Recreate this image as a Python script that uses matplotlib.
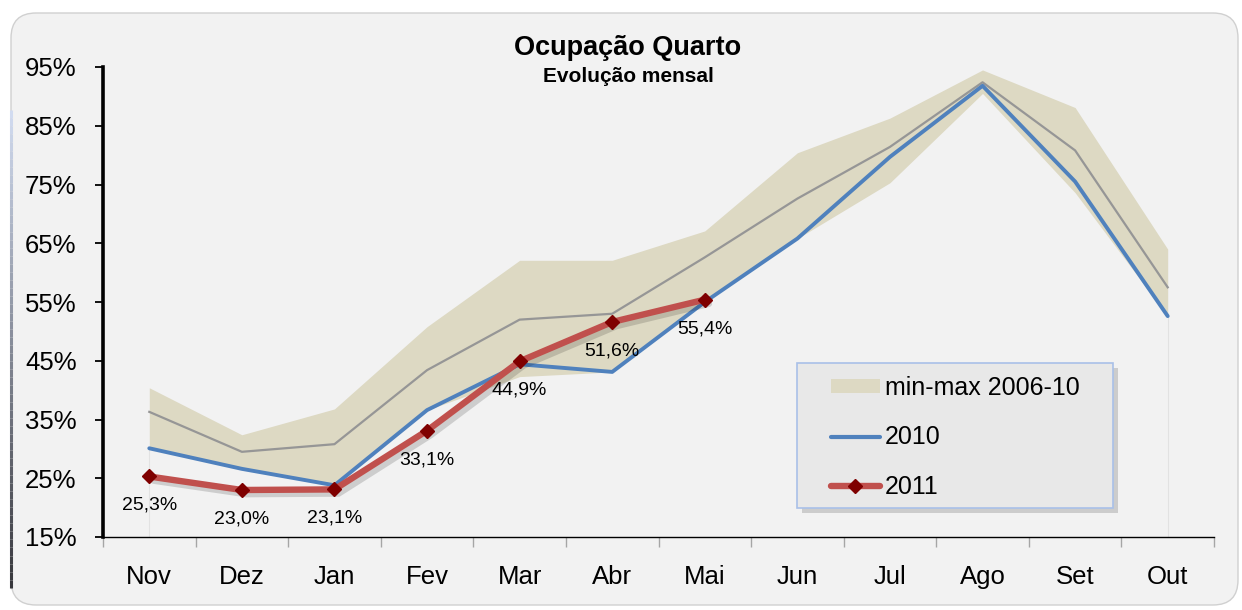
import matplotlib
matplotlib.use('Agg')
import matplotlib.pyplot as plt
import matplotlib.patheffects as pe
from matplotlib.patches import FancyBboxPatch, Rectangle, Patch
from matplotlib.lines import Line2D
from matplotlib.collections import LineCollection
from matplotlib.ticker import FixedLocator, FuncFormatter
import numpy as np

plt.rcParams['font.family'] = ['Liberation Sans', 'DejaVu Sans']

# ---- data ----
months = ["Nov", "Dez", "Jan", "Fev", "Mar", "Abr", "Mai", "Jun", "Jul", "Ago", "Set", "Out"]
band_max = [40.4, 32.4, 36.8, 50.8, 62.1, 62.1, 67.1, 80.4, 86.3, 94.5, 88.1, 64.0]
band_min = [30.1, 26.6, 23.8, 36.6, 42.3, 43.1, 55.0, 65.8, 75.3, 90.5, 73.6, 52.6]
avg_line = [36.3, 29.5, 30.8, 43.4, 52.0, 53.0, 62.6, 72.6, 81.4, 92.4, 80.8, 57.5]
y2010 = [30.1, 26.6, 23.8, 36.6, 44.4, 43.1, 55.0, 65.8, 79.7, 91.8, 75.5, 52.6]
y2011 = [25.3, 23.0, 23.1, 33.1, 44.9, 51.6, 55.4]
yticks = [15, 25, 35, 45, 55, 65, 75, 85, 95]

title = "Ocupação Quarto"
subtitle = "Evolução mensal"
legend_labels = ["min-max 2006-10", "2010", "2011"]

# ---- colours ----
c_band = "#ddd9c3"
c_avg = "#969696"
c_2010 = "#4f81bd"
c_2011 = "#c0504d"
c_mark = "#7f0000"

W, H, DPI = 1242, 610, 100
fig = plt.figure(figsize=(W / DPI, H / DPI), dpi=DPI)
fig.patch.set_facecolor("white")

# background rounded panel (in pixel-inch units)
panel = FancyBboxPatch((11 / DPI, 5 / DPI), (1238 - 11) / DPI, (605 - 13) / DPI,
                       boxstyle="round,pad=0,rounding_size=0.25",
                       transform=fig.dpi_scale_trans, facecolor="#f2f2f2",
                       edgecolor="#d0d0d0", linewidth=1.0, zorder=-10)
fig.add_artist(panel)

# darker gradient edge on the left side of the panel
ys = np.linspace(H - 110, 22, 60)
segs = [[(11 / DPI, ys[i] / DPI), (11 / DPI, ys[i + 1] / DPI)] for i in range(len(ys) - 1)]
cols = []
for i in range(len(ys) - 1):
    t = i / (len(ys) - 2)
    c0 = np.array([0.82, 0.86, 0.94])
    c1 = np.array([0.22, 0.22, 0.24])
    cols.append(tuple(c0 * (1 - t) + c1 * t))
lc = LineCollection(segs, colors=cols, linewidths=2.2, transform=fig.dpi_scale_trans, zorder=-9)
fig.add_artist(lc)

ax = fig.add_axes([103 / W, 1 - 537 / H, (1214 - 103) / W, (537 - 67) / H])
ax.set_facecolor("none")
ax.set_zorder(1)

x = np.arange(len(months))
x11 = np.arange(len(y2011))

# faint drop lines at the ends of the area
ax.vlines([x[0], x[-1]], 15, [band_min[0], band_min[-1]], color="#e2e2e2", lw=0.8, zorder=1)

ax.fill_between(x, band_min, band_max, color=c_band, lw=0, zorder=2)
ax.plot(x, avg_line, color=c_avg, lw=1.6, zorder=3)
ax.plot(x, y2010, color=c_2010, lw=2.8, solid_capstyle="round", solid_joinstyle="round", zorder=4)
ax.plot(x11, y2011, color=c_2011, lw=4.6, solid_capstyle="round", solid_joinstyle="round",
        zorder=5,
        path_effects=[pe.SimpleLineShadow(offset=(3, -3), shadow_color="black", alpha=0.15),
                      pe.Normal()])
ax.plot(x11, y2011, linestyle="none", marker="D", markersize=7.5,
        markerfacecolor=c_mark, markeredgecolor=c_mark, zorder=6)

for xi, v in zip(x11, y2011):
    ax.annotate(f"{v:.1f}".replace(".", ",") + "%", (xi, v), xytext=(0, -29),
                textcoords="offset pixels", ha="center", va="center",
                fontsize=14, color="black", zorder=7)

ax.set_xlim(-0.5, len(months) - 0.5)
ax.set_ylim(15, 95)

ax.yaxis.set_major_locator(FixedLocator(yticks))
ax.yaxis.set_major_formatter(FuncFormatter(lambda v, p: f"{v:.0f}%"))
ax.tick_params(axis="y", which="major", direction="out", length=6, width=1.3,
               color="black", labelsize=18.5, pad=13)

ax.set_xticks(x)
ax.set_xticklabels(months)
ax.set_xticks(np.arange(-0.5, len(months), 1.0), minor=True)
ax.tick_params(axis="x", which="major", length=0, labelsize=18.5, pad=20)
ax.tick_params(axis="x", which="minor", direction="out", length=7, width=1.0, color="#a6a6a6")

for s in ["top", "right"]:
    ax.spines[s].set_visible(False)
ax.spines["left"].set_linewidth(2.6)
ax.spines["left"].set_color("black")
ax.spines["bottom"].set_linewidth(1.0)
ax.spines["bottom"].set_color("black")

# titles
fig.text(628 / W, 1 - 48 / H, title, ha="center", va="center", fontsize=19.5, fontweight="bold")
fig.text(628 / W, 1 - 77 / H, subtitle, ha="center", va="center", fontsize=15, fontweight="bold")

# legend box with shadow
lx0, ly0, lw_, lh_ = 797, 363, 316, 145
shadow = Rectangle(((lx0 + 5) / DPI, (H - ly0 - lh_ - 5) / DPI), lw_ / DPI, lh_ / DPI,
                   transform=fig.dpi_scale_trans, facecolor="#a8a8a8", alpha=0.5,
                   edgecolor="none", zorder=7)
box = Rectangle((lx0 / DPI, (H - ly0 - lh_) / DPI), lw_ / DPI, lh_ / DPI,
                transform=fig.dpi_scale_trans, facecolor="#e8e8e8",
                edgecolor="#a9c0e8", linewidth=1.2, zorder=8)
fig.add_artist(shadow)
fig.add_artist(box)

handles = [
    Patch(facecolor=c_band, edgecolor="none"),
    Line2D([], [], color=c_2010, lw=3.0, solid_capstyle="round"),
    Line2D([], [], color=c_2011, lw=4.6, marker="D", markersize=7.5,
           markerfacecolor=c_mark, markeredgecolor=c_mark, solid_capstyle="round"),
]
leg = fig.legend(handles, legend_labels, loc="upper left",
                 bbox_to_anchor=(831 / W, 1 - 376 / H), bbox_transform=fig.transFigure,
                 frameon=False, fontsize=18, handlelength=1.95, handleheight=0.5,
                 handletextpad=0.2, labelspacing=1.02, borderpad=0, borderaxespad=0)
leg.set_zorder(9)

fig.savefig("out.png", dpi=DPI, facecolor="white")
